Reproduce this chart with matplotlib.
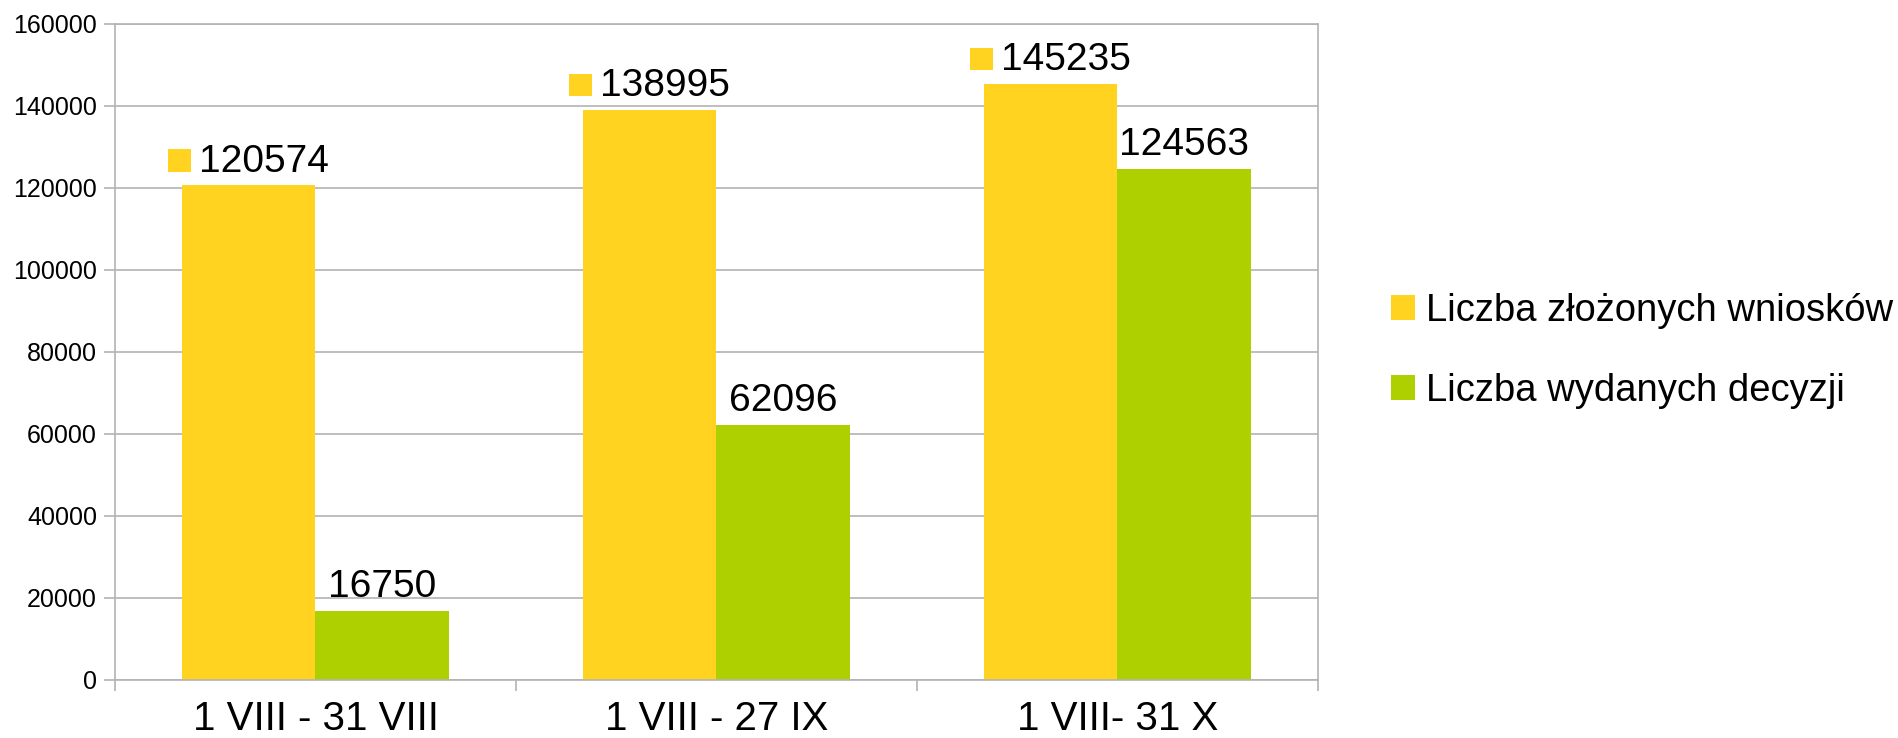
import matplotlib.pyplot as plt
import numpy as np
from matplotlib.offsetbox import AnnotationBbox, DrawingArea, HPacker, TextArea
from matplotlib.patches import Rectangle

plt.rcParams['font.family'] = ['Liberation Sans', 'DejaVu Sans']

okresy = ["1 VIII - 31 VIII", "1 VIII - 27 IX", "1 VIII- 31 X"]
wnioski = [120574, 138995, 145235]
decyzje = [16750, 62096, 124563]
nazwy = ["Liczba złożonych wniosków", "Liczba wydanych decyzji"]
y_ticks = [0, 20000, 40000, 60000, 80000, 100000, 120000, 140000, 160000]

zolty = "#ffd320"
zielony = "#aecf00"
szary = "#b3b3b3"

fig = plt.figure(figsize=(18.99, 7.38), dpi=100)
ax = fig.add_axes([115 / 1899, 1 - 679.5 / 738, (1318 - 115) / 1899, (679.5 - 23.5) / 738])

x = np.arange(len(okresy))
w = 1 / 3
b1 = ax.bar(x - w / 2, wnioski, w, color=zolty, linewidth=0, label=nazwy[0], zorder=2)
b2 = ax.bar(x + w / 2, decyzje, w, color=zielony, linewidth=0, label=nazwy[1], zorder=2)

ax.set_xlim(-0.5, len(okresy) - 0.5)
ax.set_ylim(0, 160000)
ax.set_yticks(y_ticks)
ax.set_yticklabels([str(t) for t in y_ticks], fontsize=18)
ax.yaxis.grid(True, color=szary, linewidth=1.2, zorder=0)
ax.set_axisbelow(True)

# ticks at group boundaries, labels centred under groups
ax.set_xticks(np.arange(len(okresy) + 1) - 0.5)
ax.set_xticklabels([])
ax.set_xticks(x, minor=True)
ax.set_xticklabels(okresy, minor=True, fontsize=29)
ax.tick_params(axis='x', which='major', length=8, color=szary, width=1.2)
ax.tick_params(axis='x', which='minor', length=0, pad=15)
ax.tick_params(axis='y', length=8, color=szary, width=1.2, pad=5)

for s in ax.spines.values():
    s.set_color(szary)
    s.set_linewidth(1.2)

# data labels
for xi, v in zip(x - w / 2, wnioski):
    kwadrat = DrawingArea(16, 16, 0, 0)
    kwadrat.add_artist(Rectangle((0, 0), 16, 16, facecolor=zolty, edgecolor='none'))
    tekst = TextArea(str(v), textprops=dict(fontsize=28, color='black'))
    box = HPacker(children=[kwadrat, tekst], align='baseline', pad=0, sep=6)
    ab = AnnotationBbox(box, (xi, v), xybox=(0, 4), xycoords='data',
                        boxcoords='offset points', box_alignment=(0.5, 0),
                        frameon=False, pad=0)
    ax.add_artist(ab)

for xi, v in zip(x + w / 2, decyzje):
    tekst = TextArea(str(v), textprops=dict(fontsize=28, color='black'))
    ab = AnnotationBbox(tekst, (xi, v), xybox=(0, 4), xycoords='data',
                        boxcoords='offset points', box_alignment=(0.5, 0),
                        frameon=False, pad=0)
    ax.add_artist(ab)

fig.legend(handles=[b1, b2], labels=nazwy, loc='center left',
           bbox_to_anchor=(1391 / 1899, 1 - 351 / 738), frameon=False,
           fontsize=27.5, handlelength=0.62, handleheight=0.62,
           handletextpad=0.3, labelspacing=1.15, borderpad=0, borderaxespad=0)

fig.savefig("out.png", dpi=100)
